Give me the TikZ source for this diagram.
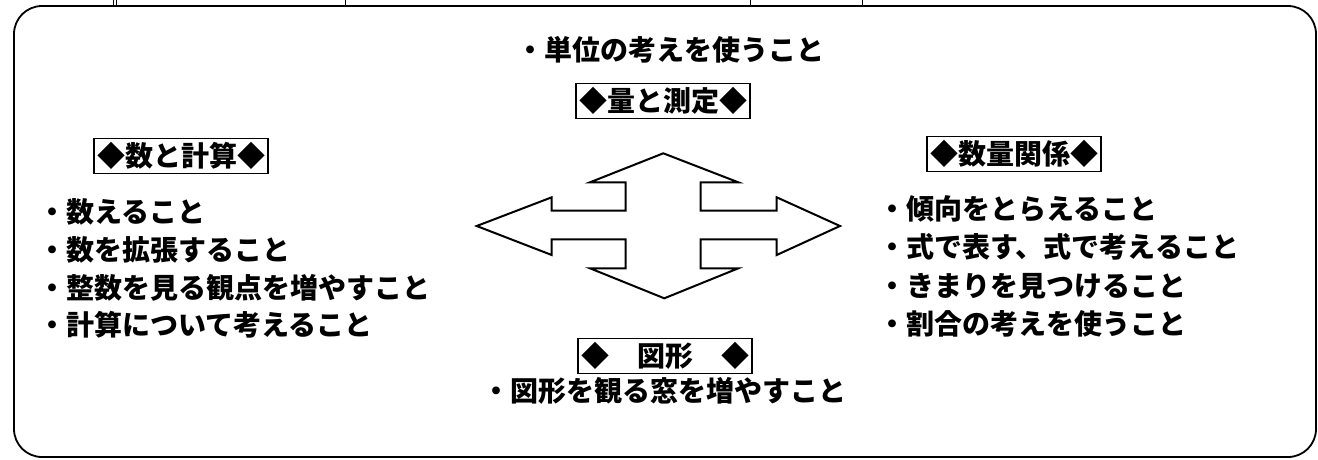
\documentclass[tikz,border=0pt]{standalone}
\usepackage{fontspec}
\newfontfamily\cjk{Noto Sans CJK JP}
\tikzset{
  txt/.style={font=\cjk\bfseries\fontsize{28}{31}\selectfont, inner sep=0pt},
  head/.style={txt, draw, line width=1.5pt, inner xsep=3pt, inner ysep=4pt},
  frame/.style={line width=1.8pt, rounded corners=28pt},
  crossline/.style={line width=2pt, line join=miter},
  tick/.style={line width=0.7pt}
}
\begin{document}
\begin{tikzpicture}[x=1pt,y=-1pt]
\useasboundingbox (0,0) rectangle (1318,459);
% outer frame
\draw[frame] (14,6) rectangle (1316,457);
\draw[tick] (113,0) -- (113,5);
\draw[tick] (116,0) -- (116,5);
\draw[tick] (345,0) -- (345,5);
\draw[tick] (750,0) -- (750,5);
\draw[tick] (862,0) -- (862,5);
% top
\node[txt] (unit) at (670,50) {・単位の考えを使うこと};
\node[head] (ryo) at (663,101) {◆量と測定◆};
% left
\node[head] (kazu) at (181,156) {◆数と計算◆};
\node[txt, anchor=west] (l1) at (38,212) {・数えること};
\node[txt, anchor=west] (l2) at (38,250) {・数を拡張すること};
\node[txt, anchor=west] (l3) at (38,288) {・整数を見る観点を増やすこと};
\node[txt, anchor=west] (l4) at (38,325) {・計算について考えること};
% right
\node[head] (kankei) at (1014,154) {◆数量関係◆};
\node[txt, anchor=west] (r1) at (878,209) {・傾向をとらえること};
\node[txt, anchor=west] (r2) at (878,247) {・式で表す、式で考えること};
\node[txt, anchor=west] (r3) at (878,286) {・きまりを見つけること};
\node[txt, anchor=west] (r4) at (878,324) {・割合の考えを使うこと};
% bottom
\node[head] (zukei) at (665,356) {◆　図形　◆};
\node[txt] (mado) at (664,391) {・図形を観る窓を増やすこと};
% cross arrow
\draw[crossline] (663.3,153.3) -- (738.3,182.3) -- (700.7,182.3) -- (700.7,210.7)
  -- (776.7,210.7) -- (776.7,197.3) -- (840,226) -- (776.7,255) -- (776.7,239.3)
  -- (700.7,239.3) -- (700.7,268.3) -- (738.3,268.3) -- (664.3,298.3)
  -- (590,268.3) -- (625.7,268.3) -- (625.7,239.3) -- (551.7,239.3)
  -- (551.7,255) -- (476.7,226) -- (551.7,197.3) -- (551.7,210.7)
  -- (625.7,210.7) -- (625.7,182.3) -- (590,182.3) -- cycle;
\end{tikzpicture}
\end{document}
